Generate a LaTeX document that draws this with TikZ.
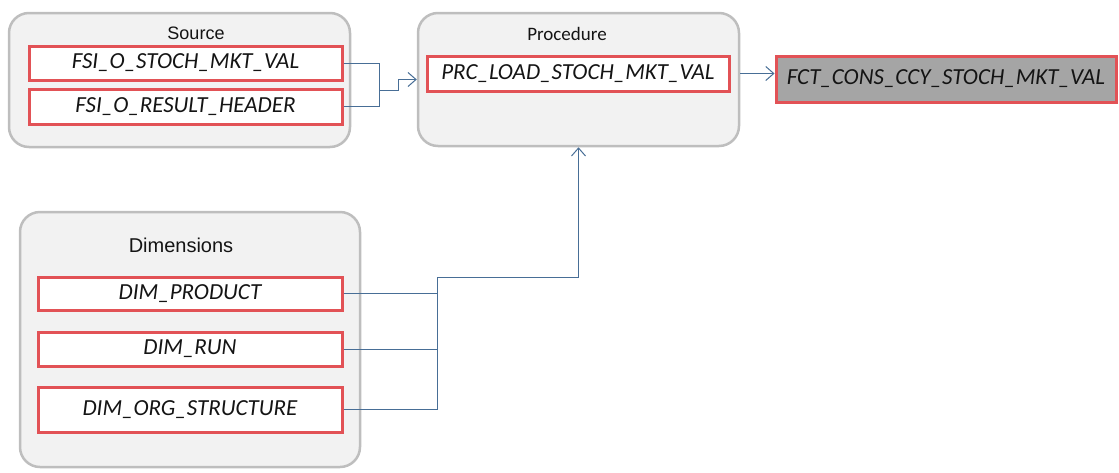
\documentclass[tikz,border=0pt]{standalone}
\usepackage{fontspec}
\setmainfont{Carlito}
\newfontfamily\arialf{Liberation Sans}
\usetikzlibrary{arrows.meta,calc}
\definecolor{redb}{RGB}{226,82,86}
\definecolor{contfill}{RGB}{242,242,242}
\definecolor{contdraw}{RGB}{190,190,190}
\definecolor{conn}{RGB}{72,110,150}
\definecolor{fctfill}{RGB}{165,165,165}
\definecolor{txt}{RGB}{20,20,20}
\tikzset{
  container/.style={draw=contdraw, fill=contfill, line width=2.5pt, rounded corners=20pt, inner sep=0pt},
  tbl/.style={draw=redb, fill=white, line width=3pt, inner sep=0pt, font=\itshape\fontsize{23}{25}\selectfont, text=txt},
  ttl/.style={font=\arialf\fontsize{18}{20}\selectfont, text=txt, inner sep=0pt},
  ttlc/.style={font=\fontsize{19}{21}\selectfont, text=txt, inner sep=0pt},
  link/.style={draw=conn, line width=1pt},
  arr/.style={link, -{Straight Barb[length=8pt,width=14pt,line width=1pt]}}
}
\begin{document}
\begin{tikzpicture}[x=1pt,y=-1pt]
\useasboundingbox (0,0) rectangle (1119,472);
% containers
\node[container, minimum width=341pt, minimum height=134pt] (src) at (179.5,80) {};
\node[ttl] (srcT) at (196,33) {Source};
\node[container, minimum width=321pt, minimum height=133pt] (proc) at (578.5,79.5) {};
\node[ttlc] (procT) at (567,34) {Procedure};
\node[container, minimum width=340pt, minimum height=255pt] (dims) at (190,339.5) {};
\node[ttl, font=\arialf\fontsize{20}{22}\selectfont] (dimsT) at (181,245) {Dimensions};
% tables
\node[tbl, minimum width=313pt, minimum height=34pt] (s1) at (185.5,63) {FSI\_O\_STOCH\_MKT\_VAL};
\node[tbl, minimum width=313pt, minimum height=35pt] (s2) at (185.5,106.5) {FSI\_O\_RESULT\_HEADER};
\node[tbl, minimum width=302pt, minimum height=35pt] (prc) at (578,73.5) {PRC\_LOAD\_STOCH\_MKT\_VAL};
\node[tbl, fill=fctfill, minimum width=340pt, minimum height=46pt] (fct) at (946,79) {FCT\_CONS\_CCY\_STOCH\_MKT\_VAL};
\node[tbl, minimum width=304pt, minimum height=33pt] (d1) at (190,293.5) {DIM\_PRODUCT};
\node[tbl, minimum width=304pt, minimum height=34pt] (d2) at (190,349) {DIM\_RUN};
\node[tbl, minimum width=304pt, minimum height=45pt] (d3) at (190,409.5) {DIM\_ORG\_STRUCTURE};
% junction coordinates
\coordinate (j1) at (379,90);
\coordinate (j2) at (398,90);
\coordinate (j3) at (437,277);
% connectors
\draw[link] (s1.east) -- (s1.east -| j1) -- (s2.east -| j1) -- (s2.east);
\draw[arr] (j1) -- (j2) -- (j2 |- proc.west) -- (proc.west);
\draw[arr] (prc.east -| proc.east) -- (prc.east -| fct.west);
\draw[link] (d1.east) -- (d1.east -| j3);
\draw[link] (d2.east) -- (d2.east -| j3);
\draw[link] (d3.east) -- (d3.east -| j3) -- (j3);
\draw[arr] (j3) -- (j3 -| proc.south) -- (proc.south);
\end{tikzpicture}
\end{document}
